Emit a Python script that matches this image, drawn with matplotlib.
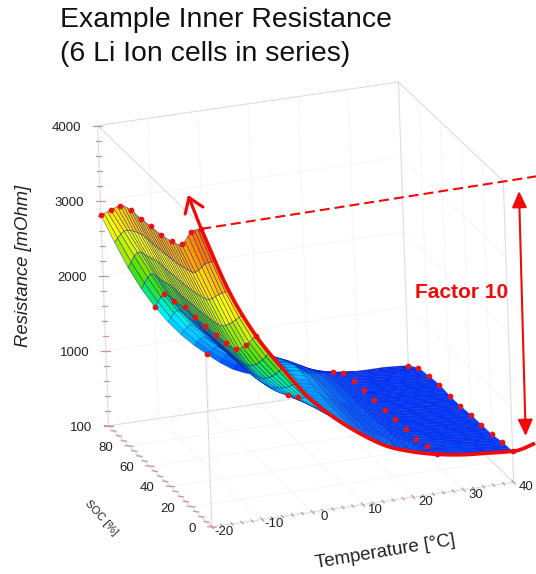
import numpy as np
import matplotlib
matplotlib.use("Agg")
import matplotlib.pyplot as plt
from matplotlib.collections import PolyCollection
from matplotlib.colors import LinearSegmentedColormap

plt.rcParams['font.family'] = ['Liberation Sans', 'DejaVu Sans']

temp = [-20, -15, -10, -5, 0, 5, 10, 15, 20, 25, 30, 35, 40]
soc = [100, 90, 80, 70, 60, 50, 40, 30, 20, 10, 0]
r_m20 = [2810, 3010, 3200, 3280, 3290, 3320, 3340, 3390, 3480, 3780, 3950]
r_m15 = [2060, 2400, 2480, 2540, 2550, 2570, 2590, 2630, 2700, 2900, 3080]
r_m10 = [1490, 1795, 1835, 1880, 1885, 1900, 1915, 1940, 1995, 2180, 2440]
r_m05 = [1070, 1340, 1400, 1430, 1440, 1450, 1460, 1490, 1560, 1720, 1957]
r_p00 = [760, 1000, 1060, 1090, 1100, 1110, 1130, 1190, 1290, 1390, 1520]
r_p05 = [510, 820, 950, 1020, 1050, 1040, 1030, 1040, 1080, 1130, 1200]
r_p10 = [385, 760, 880, 960, 1020, 980, 950, 930, 920, 930, 940]
r_p15 = [360, 600, 720, 750, 740, 720, 700, 690, 690, 710, 730]
r_p20 = [310, 480, 540, 560, 555, 550, 555, 560, 570, 590, 605]
r_p25 = [270, 400, 430, 440, 440, 440, 455, 455, 460, 490, 520]
r_p30 = [240, 360, 395, 410, 405, 405, 415, 420, 430, 455, 465]
r_p35 = [240, 330, 365, 385, 375, 375, 385, 390, 395, 425, 440]
r_p40 = [215, 310, 340, 360, 345, 345, 360, 365, 370, 400, 410]

# Red line along SOC 0, running past the box on the right
line_temp = [-20, -15, -10, -5, 0, 5, 10, 15, 20, 25, 30, 35, 40, 42, 44.5]
line_r = [3950, 3080, 2440, 1957, 1520, 1200, 940, 730, 605, 520, 465, 437, 412, 425, 475]

temp_ticks = [-20, -10, 0, 10, 20, 30, 40]
soc_ticks = [0, 20, 40, 60, 80, 100]
soc_labels = ['0', '20', '40', '60', '80']
r_ticks = [0, 1000, 2000, 3000, 4000]
r_labels = ['100', '1000', '2000', '3000', '4000']

# Box corners (temp, soc, r) and where they sit in the picture
box_world = [(-20, 0, 0), (40, 0, 0), (-20, 100, 0), (40, 100, 0),
             (-20, 0, 4000), (40, 0, 4000), (-20, 100, 4000), (40, 100, 4000)]
box_px = [(212.3, 527), (513.3, 482.7), (108.3, 426), (409, 381),
          (201, 224), (503.3, 181.7), (97.5, 126.5), (398.7, 81.7)]

# Camera matrix from the corners
rows = []
for (t, s, r), (u, v) in zip(box_world, box_px):
    w = [t / 60, s / 100, r / 4000, 1]
    rows.append(w + [0, 0, 0, 0] + [-u * c for c in w])
    rows.append([0, 0, 0, 0] + w + [-v * c for c in w])
cam = np.linalg.svd(np.array(rows))[2][-1].reshape(3, 4)


def project(t, s, r):
    t, s, r = np.broadcast_arrays(np.asarray(t, float), np.asarray(s, float), np.asarray(r, float))
    p = np.tensordot(cam, np.stack([t / 60, s / 100, r / 4000, np.ones_like(t)]), axes=1)
    return p[0] / p[2], p[1] / p[2]


def refine(a, n):
    # Catmull-Rom between the table rows, only to draw a fine mesh
    a = np.asarray(a, float)
    a = np.concatenate([[2 * a[0] - a[1]], a, [2 * a[-1] - a[-2]]])
    out = []
    for i in range(1, len(a) - 2):
        for f in np.arange(n) / n:
            out.append(0.5 * (2 * a[i] + (a[i + 1] - a[i - 1]) * f
                              + (2 * a[i - 1] - 5 * a[i] + 4 * a[i + 1] - a[i + 2]) * f ** 2
                              + (3 * a[i] - a[i - 1] - 3 * a[i + 1] + a[i + 2]) * f ** 3))
    out.append(a[-2])
    return np.array(out)


table = np.array([r_m20, r_m15, r_m10, r_m05, r_p00, r_p05, r_p10, r_p15, r_p20, r_p25, r_p30, r_p35, r_p40], float)
fine_r = refine(refine(table, 2).T, 3).T
fine_t = np.linspace(-20, 40, fine_r.shape[0])
fine_s = np.linspace(100, 0, fine_r.shape[1])
tt, ss = np.meshgrid(fine_t, fine_s, indexing='ij')
xx, yy = project(tt, ss, fine_r)

fig = plt.figure(figsize=(5.36, 5.74), dpi=100)
ax = fig.add_axes([0, 0, 1, 1])
ax.set_xlim(0, 536)
ax.set_ylim(574, 0)
ax.axis('off')


def line3(ts, ss_, rs, **kw):
    x, y = project(ts, ss_, rs)
    ax.plot(np.atleast_1d(x), np.atleast_1d(y), **kw)


# Grid on floor and walls
grid = dict(color='#e6e6ec', lw=0.7, ls=':', zorder=1)
for t in temp_ticks[1:-1]:
    line3([t, t], [0, 100], [0, 0], **grid)
    line3([t, t], [100, 100], [0, 4000], **grid)
for s in soc_ticks[1:-1]:
    line3([-20, 40], [s, s], [0, 0], **grid)
    line3([40, 40], [s, s], [0, 4000], **grid)
for r in r_ticks[1:-1]:
    line3([-20, 40], [100, 100], [r, r], **grid)
    line3([40, 40], [0, 100], [r, r], **grid)

# Box edges
edge = dict(color='#c4c4f0', lw=0.8, ls=(0, (1, 0.6)), zorder=2)
for a, b in [((-20, 0, 0), (40, 0, 0)), ((-20, 0, 0), (-20, 100, 0)), ((-20, 100, 0), (40, 100, 0)),
             ((40, 0, 0), (40, 100, 0)), ((-20, 100, 0), (-20, 100, 4000)), ((40, 100, 0), (40, 100, 4000)),
             ((40, 0, 0), (40, 0, 4000)), ((-20, 0, 0), (-20, 0, 4000)), ((-20, 100, 4000), (40, 100, 4000)),
             ((-20, 100, 4000), (-20, 0, 4000)), ((40, 100, 4000), (40, 0, 4000))]:
    line3([a[0], b[0]], [a[1], b[1]], [a[2], b[2]], **edge)

# Ticks
tick = dict(color='#cc9494', lw=0.9, zorder=3)
for r in range(0, 4001, 200):
    x, y = project(-20, 100, r)
    half = 4.5 if r % 1000 == 0 else 2.5
    ax.plot([x - half, x + half], [y, y], **tick)
for s in range(0, 101, 5):
    x, y = project(-20, s, 0)
    half = 4 if s % 20 == 0 else 2.5
    ax.plot([x - half, x + half], [y - 0.3, y + 0.3], **tick)
for t in range(-20, 41, 2):
    x, y = project(t, 0, 0)
    half = 1.6 if t % 10 == 0 else 1.1
    ax.plot([x - half, x + half], [y - half, y + half], **tick)

# Tick labels
lab = dict(fontsize=9.5, color='#222222', zorder=4)
for r, name in zip(r_ticks, r_labels):
    x, y = project(-20, 100, r)
    ax.text(x - 16, y + 2, name, ha='right', va='center', **lab)
for s, name in zip(soc_ticks, soc_labels):
    x, y = project(-20, s, 0)
    ax.text(x - 16, y + 2, name, ha='right', va='center', **lab)
for t in temp_ticks:
    x, y = project(t, 0, 0)
    ax.text(x + 12, y + 5, str(t), ha='center', va='center', **lab)

# Surface, back to front
cmap = LinearSegmentedColormap.from_list('res', [
    (0.0, (0, 0.12, 1)), (0.12, (0, 0.27, 1)), (0.175, (0, 0.45, 1)), (0.25, (0, 0.7, 1)), (0.33, (0, 0.95, 1)),
    (0.42, (0, 0.92, 0.47)), (0.5, (0.3, 0.88, 0)), (0.6, (0.75, 0.94, 0)), (0.68, (1, 1, 0)),
    (0.8, (1, 0.72, 0)), (0.95, (1, 0.4, 0)), (1.0, (1, 0.1, 0))], N=36)
polys = []
cols = []
edges = []
for j in range(xx.shape[1] - 1):
    for i in range(xx.shape[0] - 2, -1, -1):
        polys.append([(xx[i, j], yy[i, j]), (xx[i + 1, j], yy[i + 1, j]),
                      (xx[i + 1, j + 1], yy[i + 1, j + 1]), (xx[i, j + 1], yy[i, j + 1])])
        val = fine_r[i:i + 2, j:j + 2].mean()
        cols.append(cmap(val / 4000))
        edges.append((0, 0, 0.65, 0.55 if val > 1500 else 0.35))
ax.add_collection(PolyCollection(polys, facecolors=cols, edgecolors=edges, linewidths=0.45, zorder=5))

# Measured points that can be seen
dot = dict(ls='none', marker='o', ms=3.1, color='#e81414', zorder=6)
for row, name in [(r_m20, -20), (r_m10, -10), (r_p25, 25), (r_p40, 40)]:
    line3(np.full(11, name), soc, row, **dot)
seen = [0, 8, 9]
line3(np.zeros(3), [soc[k] for k in seen], [r_p00[k] for k in seen], **dot)

# Red annotation
red = '#f00a0a'
x, y = project(line_temp, np.zeros(len(line_temp)), line_r)
ax.plot(refine(x, 6), refine(y, 6), color=red, lw=2.7, zorder=7, solid_capstyle='butt')
tip = (188, 195)
ax.annotate('', xy=tip, xytext=(x[0], y[0]), zorder=7,
            arrowprops=dict(arrowstyle='->,head_length=0.55,head_width=0.38', color=red, lw=2.3,
                            mutation_scale=18, shrinkA=0, shrinkB=0))
line3([-20, 47], [0, 0], [3950, 4000], color=red, lw=1.5, ls=(0, (4.8, 2.4)), zorder=7)
ax.annotate('', xy=(519, 191), xytext=(525.7, 436), zorder=7,
            arrowprops=dict(arrowstyle='<|-|>,head_length=0.55,head_width=0.25', color=red, lw=1.5,
                            mutation_scale=18, shrinkA=0, shrinkB=0))
ax.text(462, 293, 'Factor 10', color=red, fontsize=15, fontweight='bold', ha='center', va='center', zorder=8)

# Titles and axis names
ax.text(60, 27, 'Example Inner Resistance', fontsize=20.4, color='#111111', va='baseline')
ax.text(60, 61, '(6 Li Ion cells in series)', fontsize=20.4, color='#111111', va='baseline')
ax.text(24, 266, 'Resistance [mOhm]', fontsize=13.3, style='italic', rotation=90, ha='center', va='center', color='#222222')
ax.text(385, 552, 'Temperature [°C]', fontsize=13.5, rotation=9.5, ha='center', va='center', color='#222222')
ax.text(101, 518, 'SOC [%]', fontsize=8, rotation=-48, ha='center', va='center', color='#222222')

fig.savefig('out.png', dpi=100)
